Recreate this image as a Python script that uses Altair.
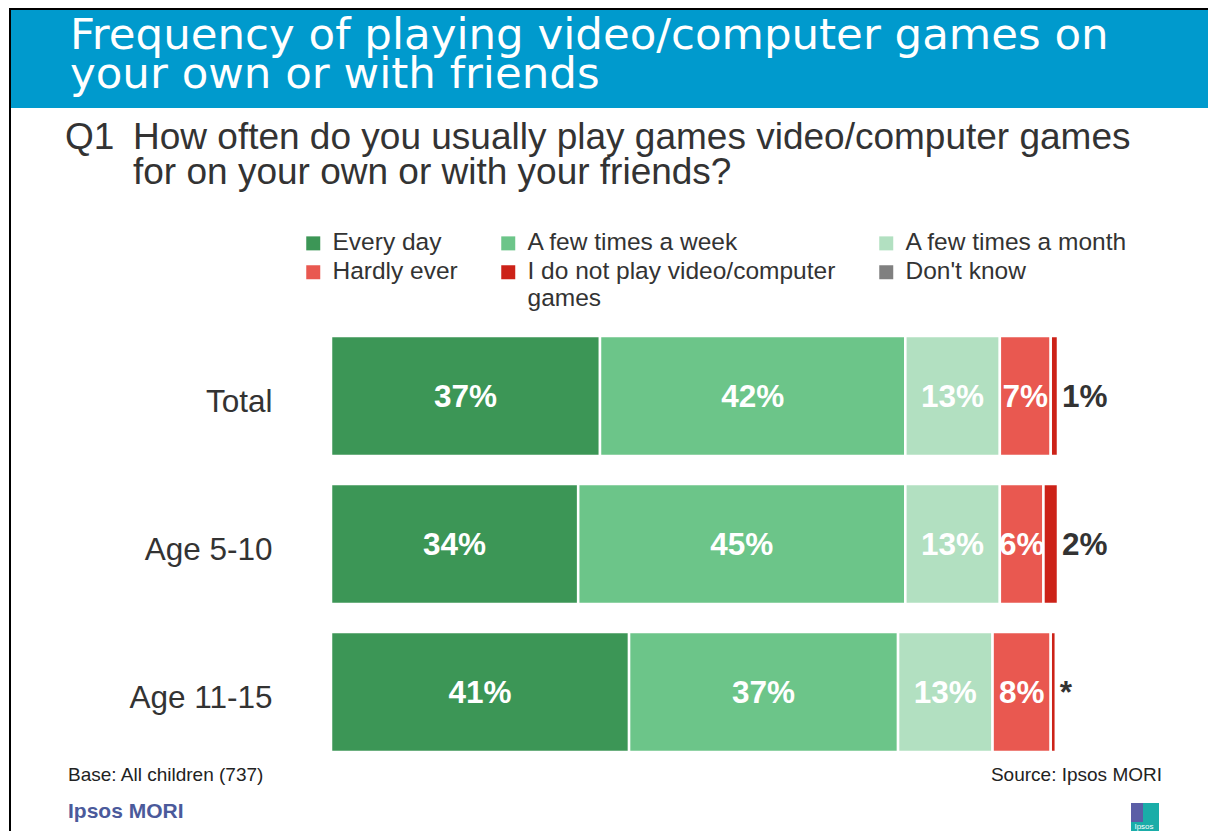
import altair as alt
import pandas as pd

# ---------------- data ----------------
groups = ["Total", "Age 5-10", "Age 11-15"]
categories = ["Every day", "A few times a week", "A few times a month",
              "Hardly ever", "I do not play video/computer games", "Don't know"]
colors = ["#3C9656", "#6CC589", "#B2E0C1", "#E95850", "#CC2218", "#808080"]

every_day = [37, 34, 41]
few_week = [42, 45, 37]
few_month = [13, 13, 13]
hardly_ever = [7, 6, 8]
not_play = [1, 2, 0.7]
dont_know = [0, 0, 0]

every_day_lbl = ["37%", "34%", "41%"]
few_week_lbl = ["42%", "45%", "37%"]
few_month_lbl = ["13%", "13%", "13%"]
hardly_ever_lbl = ["7%", "6%", "8%"]
not_play_lbl = ["1%", "2%", "*"]
dont_know_lbl = ["", "", ""]

series = [every_day, few_week, few_month, hardly_ever, not_play, dont_know]
series_lbl = [every_day_lbl, few_week_lbl, few_month_lbl, hardly_ever_lbl,
              not_play_lbl, dont_know_lbl]

rows = []
for gi, g in enumerate(groups):
    start = 0.0
    for ci, cat in enumerate(categories):
        v = series[ci][gi]
        end = start + v
        if v > 0:
            rows.append({"group": g, "category": cat, "idx": ci, "value": v,
                         "start": start, "end": end, "mid": (start + end) / 2,
                         "label": series_lbl[ci][gi], "inside": ci < 4})
        start = end
df = pd.DataFrame(rows)
inner = df[df["inside"]]
outer = df[~df["inside"]]

one = pd.DataFrame({"k": [0]})

FONT = "Liberation Sans"
DARK = "#333333"

# ---------------- layout ----------------
W, H = 727, 444
PAD = {"left": 323, "top": 314, "right": 150, "bottom": 65}

y_enc = alt.Y("group:N", sort=groups,
              scale=alt.Scale(paddingInner=0.19, paddingOuter=0.095),
              axis=alt.Axis(title=None, domain=False, ticks=False,
                            labelFontSize=31.5, labelFont=FONT, labelColor=DARK,
                            labelPadding=59, labelLimit=300, labelOffset=7))
x_scale = alt.Scale(domain=[0, 100])

bars = alt.Chart(df).mark_rect(stroke="white", strokeWidth=2.5).encode(
    y=y_enc,
    x=alt.X("start:Q", scale=x_scale, axis=None),
    x2="end:Q",
    color=alt.Color("category:N",
                    scale=alt.Scale(domain=categories, range=colors),
                    legend=alt.Legend(
                        title=None, orient="none", legendX=-30, legendY=-91,
                        direction="horizontal",
                        columns=3, symbolType="square", symbolSize=196,
                        symbolStrokeWidth=0, labelFontSize=24.5, labelFont=FONT,
                        labelColor=DARK, labelLimit=600, columnPadding=38,
                        rowPadding=4, labelOffset=7, padding=0,
                        labelExpr="datum.label == 'I do not play video/computer games' ? ['I do not play video/computer', 'games'] : datum.label")),
)

inner_txt = alt.Chart(inner).mark_text(
    font=FONT, fontSize=31.5, fontWeight="bold", color="white",
    align="center", baseline="middle", dy=2).encode(
    y=y_enc, x=alt.X("mid:Q", scale=x_scale, axis=None), text="label:N")

outer_txt = alt.Chart(outer).mark_text(
    font=FONT, fontSize=31.5, fontWeight="bold", color=DARK,
    align="left", baseline="middle", dx=4, dy=2).encode(
    y=y_enc, x=alt.X("end:Q", scale=x_scale, axis=None), text="label:N")

# ---------------- decorations / texts ----------------
band = alt.Chart(one).mark_rect(color="#009ACD").encode(
    x=alt.value(-320), x2=alt.value(W + PAD["right"]),
    y=alt.value(-312), y2=alt.value(-214))
top_line = alt.Chart(one).mark_rule(color="black", strokeWidth=2).encode(
    x=alt.value(-322), x2=alt.value(W + PAD["right"]),
    y=alt.value(-313))
left_line = alt.Chart(one).mark_rule(color="black", strokeWidth=2).encode(
    x=alt.value(-321), y=alt.value(-314), y2=alt.value(H + PAD["bottom"]))

title_txt = alt.Chart(one).mark_text(
    font="DejaVu Sans", fontSize=43.5, color="white", align="left",
    baseline="alphabetic", lineHeight=39).encode(
    x=alt.value(-261), y=alt.value(-273),
    text=alt.value(["Frequency of playing video/computer games on",
                    "your own or with friends"]))

q1 = alt.Chart(one).mark_text(
    font=FONT, fontSize=37, color=DARK, align="left",
    baseline="alphabetic").encode(
    x=alt.value(-266), y=alt.value(-173), text=alt.value("Q1"))
question = alt.Chart(one).mark_text(
    font=FONT, fontSize=37, color=DARK, align="left",
    baseline="alphabetic", lineHeight=35).encode(
    x=alt.value(-198), y=alt.value(-173),
    text=alt.value(["How often do you usually play games video/computer games",
                    "for on your own or with your friends?"]))

base_txt = alt.Chart(one).mark_text(
    font=FONT, fontSize=19, color="#222222", align="left",
    baseline="middle").encode(
    x=alt.value(-263), y=alt.value(453), text=alt.value("Base: All children (737)"))
source_txt = alt.Chart(one).mark_text(
    font=FONT, fontSize=19, color="#222222", align="right",
    baseline="middle").encode(
    x=alt.value(831), y=alt.value(453), text=alt.value("Source: Ipsos MORI"))
ipsos_txt = alt.Chart(one).mark_text(
    font=FONT, fontSize=21, fontWeight="bold", color="#4B5A9B", align="left",
    baseline="middle").encode(
    x=alt.value(-263), y=alt.value(490), text=alt.value("Ipsos MORI"))

logo_teal = alt.Chart(one).mark_rect(color="#1AADA8").encode(
    x=alt.value(800), x2=alt.value(828), y=alt.value(481), y2=alt.value(510))
logo_purple = alt.Chart(one).mark_rect(color="#5B5EA6").encode(
    x=alt.value(800), x2=alt.value(812), y=alt.value(481), y2=alt.value(500))
logo_txt = alt.Chart(one).mark_text(
    font=FONT, fontSize=8, color="white", align="center",
    baseline="middle").encode(
    x=alt.value(813), y=alt.value(505), text=alt.value("Ipsos"))

chart = alt.layer(
    band, top_line, left_line, title_txt, q1, question,
    bars, inner_txt, outer_txt,
    base_txt, source_txt, ipsos_txt, logo_teal, logo_purple, logo_txt,
).properties(
    width=W, height=H, padding=PAD,
    autosize=alt.AutoSizeParams(type="none"),
    background="white",
).configure_view(stroke=None)

chart.save("out.html", embed_options={"renderer": "svg", "actions": False})
